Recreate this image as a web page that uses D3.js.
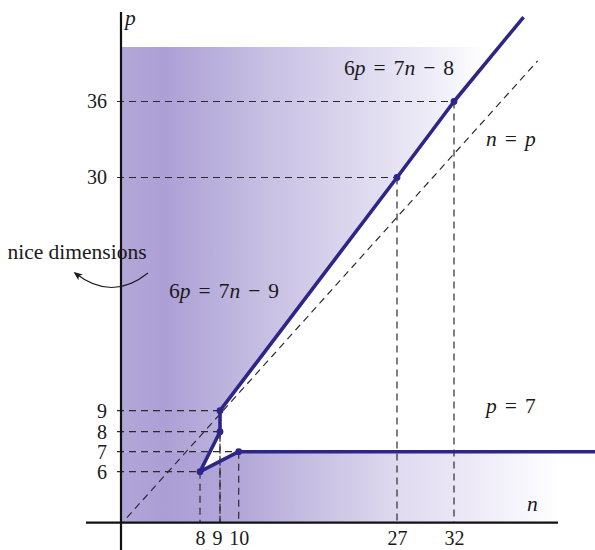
<!DOCTYPE html>
<html>
<head>
<meta charset="utf-8">
<script src="https://cdn.jsdelivr.net/npm/d3@7/dist/d3.min.js"></script>
<style>
  html, body { margin: 0; padding: 0; background: #ffffff; }
  svg { display: block; }
  text { font-family: "Liberation Serif", "DejaVu Serif", serif; fill: #1a1a1a; }
</style>
</head>
<body>
<svg id="chart" width="595" height="550"></svg>
<script>
// ---- data -------------------------------------------------------------
// tick values on each axis (the axes are schematic, not to scale)
const xTicks = [8, 9, 10, 27, 32];
const yTicks = [6, 7, 8, 9, 30, 36];

// boundary of the "nice dimensions" region, (n, p) pairs:
// p = 7 branch, the small kink, then the line 6p = 7n - 8
const boundary = [
  [45, 7], [10, 7], [8, 6], [9, 8], [9, 9], [27, 30], [32, 36], [38, 42.67]
];
// marked vertices with their dashed guides
const markedPoints = [[8, 6], [9, 8], [9, 9], [10, 7], [27, 30], [32, 36]];
// diagonal n = p
const diagonal = [[0.6, 0.6], [39.2, 39.2]];
// upper limit of the shaded area
const shadeTop = 40.3;
const shadeTopN = (6 * shadeTop + 8) / 7;

const FS = 21.5;      // label size
const TICK_FS = 20;   // tick label size

// ---- scales (piecewise linear, stretched near the small values) --------
const x = d3.scaleLinear()
  .domain([0, 8, 9, 10, 27, 32, 45])
  .range([121, 200, 220, 238.7, 397, 454, 604.8]);
const y = d3.scaleLinear()
  .domain([0, 6, 7, 8, 9, 30, 36, 44])
  .range([522.7, 471.7, 451.7, 431.7, 410.7, 177.5, 101.5, 0.2]);

const svg = d3.select("#chart");
const defs = svg.append("defs");

// horizontal fades for the shaded region
function fade(id, x1, x2, stops) {
  const g = defs.append("linearGradient")
    .attr("id", id).attr("gradientUnits", "userSpaceOnUse")
    .attr("x1", x1).attr("x2", x2).attr("y1", 0).attr("y2", 0);
  stops.forEach(([o, c]) => g.append("stop").attr("offset", o).attr("stop-color", c));
}
fade("fadeTop", 121, 485, [
  [0, "#b3a7d9"], [0.12, "#ac9fd5"], [0.38, "#c6bee2"],
  [0.64, "#dcd7ee"], [0.86, "#efedf8"], [1, "#ffffff"]
]);
fade("fadeBottom", 121, 560, [
  [0, "#b1a5d8"], [0.1, "#ab9ed5"], [0.27, "#b3a7d9"], [0.41, "#c4bbe0"],
  [0.64, "#e0dbf0"], [0.8, "#ede9f7"], [0.93, "#f9f8fd"], [1, "#ffffff"]
]);

defs.append("clipPath").attr("id", "clipTop")
  .append("rect").attr("x", 0).attr("y", 0).attr("width", 595).attr("height", y(7));
defs.append("clipPath").attr("id", "clipBottom")
  .append("rect").attr("x", 0).attr("y", y(7)).attr("width", 595).attr("height", 550 - y(7));

defs.append("marker")
  .attr("id", "arrowHead").attr("viewBox", "0 0 10 10")
  .attr("refX", 8).attr("refY", 5)
  .attr("markerWidth", 9).attr("markerHeight", 9)
  .attr("markerUnits", "userSpaceOnUse")
  .attr("orient", "auto")
  .append("path").attr("d", "M0,1 L10,5 L0,9 L2.5,5 Z").attr("fill", "#1a1a1a");

const line = d3.line().x(d => x(d[0])).y(d => y(d[1]));

// shaded region: everything left of / below the boundary
const region = [[0, shadeTop], [shadeTopN, shadeTop], [32, 36], [27, 30], [9, 9], [9, 8],
  [8, 6], [10, 7], [45, 7], [45, 0], [0, 0]];
const regionPath = line(region) + "Z";
svg.append("path").attr("d", regionPath).attr("fill", "url(#fadeTop)")
  .attr("clip-path", "url(#clipTop)");
svg.append("path").attr("d", regionPath).attr("fill", "url(#fadeBottom)")
  .attr("clip-path", "url(#clipBottom)");

// dashed guides
const guides = svg.append("g")
  .attr("stroke", "#2b2b2b").attr("stroke-width", 1.2)
  .attr("stroke-dasharray", "7,5").attr("fill", "none");
markedPoints.forEach(([n, p]) => {
  guides.append("line")
    .attr("x1", x(0) - 4).attr("x2", x(n)).attr("y1", y(p)).attr("y2", y(p));
  guides.append("line")
    .attr("x1", x(n)).attr("x2", x(n)).attr("y1", y(p)).attr("y2", y(0));
});
guides.append("path").attr("d", line(diagonal));

// axes
const axes = svg.append("g").attr("stroke", "#111").attr("stroke-width", 2.2);
axes.append("line").attr("x1", 86).attr("x2", 558).attr("y1", y(0)).attr("y2", y(0));
axes.append("line").attr("x1", x(0)).attr("x2", x(0)).attr("y1", 12).attr("y2", 550);

const yAxis = svg.append("g")
  .attr("transform", `translate(${x(0)},0)`)
  .call(d3.axisLeft(y).tickValues(yTicks).tickSize(0).tickPadding(14));
const xAxis = svg.append("g")
  .attr("transform", `translate(0,${y(0)})`)
  .call(d3.axisBottom(x).tickValues(xTicks).tickSize(0).tickPadding(8));
[yAxis, xAxis].forEach(a => {
  a.select(".domain").remove();
  a.selectAll("text")
    .attr("font-family", "Liberation Serif, serif")
    .attr("font-size", TICK_FS).attr("fill", "#1a1a1a");
});
xAxis.selectAll(".tick").filter(d => d === 9).select("text").attr("dx", -3);

// boundary line and its vertices
svg.append("path").attr("d", line(boundary))
  .attr("fill", "none").attr("stroke", "#2e2589").attr("stroke-width", 3.6)
  .attr("stroke-linejoin", "round");
svg.append("g").selectAll("circle").data(markedPoints).join("circle")
  .attr("cx", d => x(d[0])).attr("cy", d => y(d[1])).attr("r", 3.4)
  .attr("fill", "#2e2589");

// labels: [text, italic, extra gap before]
function mathLabel(parts, px, py, anchor) {
  const t = svg.append("text").attr("x", px).attr("y", py)
    .attr("font-size", FS).attr("text-anchor", anchor || "start");
  parts.forEach(([s, it, gap]) => t.append("tspan").text(s)
    .attr("dx", gap || 0)
    .attr("font-style", it ? "italic" : "normal"));
  return t;
}
const G = 8;
mathLabel([["p", true]], 125, 25);
mathLabel([["n", true]], 527, 511);
mathLabel([["6", false], ["p", true], ["=", false, G], ["7", false, G], ["n", true],
  ["−", false, G], ["8", false, G]], 399, 75, "middle");
mathLabel([["n", true], ["=", false, G], ["p", true, G]], 486, 146);
mathLabel([["6", false], ["p", true], ["=", false, G], ["7", false, G], ["n", true],
  ["−", false, G], ["9", false, G]], 224, 298, "middle");
mathLabel([["p", true], ["=", false, G], ["7", false, G]], 486, 413);

svg.append("text").attr("x", 77).attr("y", 259)
  .attr("text-anchor", "middle").attr("font-size", FS).text("nice dimensions");

svg.append("path")
  .attr("d", "M148,273 Q112,302 75,273")
  .attr("fill", "none").attr("stroke", "#1a1a1a").attr("stroke-width", 1.1)
  .attr("marker-end", "url(#arrowHead)");
</script>
</body>
</html>
